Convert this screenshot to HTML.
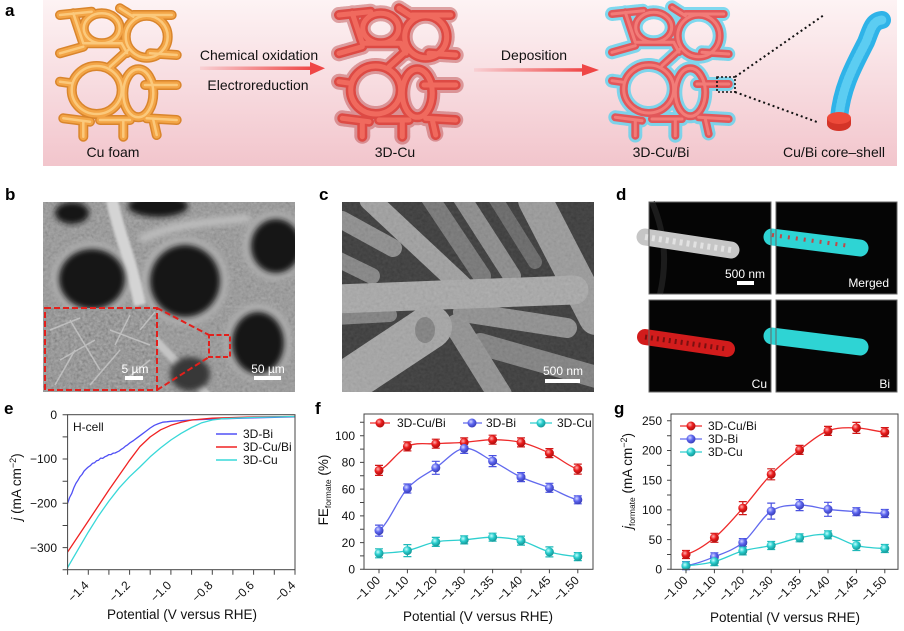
<!DOCTYPE html>
<html><head><meta charset="utf-8"><style>
html,body{margin:0;padding:0;background:#fff;}
svg{display:block;font-family:"Liberation Sans",Arial,sans-serif;}
</style></head><body>
<svg width="904" height="631" viewBox="0 0 904 631" xmlns="http://www.w3.org/2000/svg">
<defs>
<linearGradient id="pink" x1="0" y1="0" x2="0" y2="1"><stop offset="0" stop-color="#fdf3f4"/><stop offset="1" stop-color="#f2c5cc"/></linearGradient>
<linearGradient id="arr" x1="0" y1="0" x2="1" y2="0"><stop offset="0" stop-color="#f8d0d4"/><stop offset="1" stop-color="#ef4646"/></linearGradient>
<radialGradient id="mr" cx="0.38" cy="0.35" r="0.7"><stop offset="0" stop-color="#ffb0b0"/><stop offset="0.45" stop-color="#ea1c1c"/><stop offset="1" stop-color="#a80c0c"/></radialGradient>
<radialGradient id="mb" cx="0.38" cy="0.35" r="0.7"><stop offset="0" stop-color="#d6d9ff"/><stop offset="0.45" stop-color="#5d66f0"/><stop offset="1" stop-color="#3438b0"/></radialGradient>
<radialGradient id="mc" cx="0.38" cy="0.35" r="0.7"><stop offset="0" stop-color="#c4ffff"/><stop offset="0.45" stop-color="#27cccc"/><stop offset="1" stop-color="#148f8f"/></radialGradient>
<path id="lat" d="M68.7,29.7 a21,21 0 1,0 42,0 a21,21 0 1,0 -42,0 M14.7,83 a25,24 0 1,0 50,0 a25,24 0 1,0 -50,0 M66.3,86.3 a15,24 0 1,0 30,0 a15,24 0 1,0 -30,0 M26.7,21.3 a18,15 0 1,0 36,0 a18,15 0 1,0 -36,0 M3,8 L34.7,4.7 M16.3,6.3 L26.3,36.3 M26.3,36.3 L64.7,36.3 M3,46.3 L26.3,39.7 M63,1.3 L76.3,9.7 M76.3,8 L114.7,8 M93,46.3 L119.7,48 M88,78 L119.7,78 M3,74.7 L14.7,76.3 M6.3,111.3 L33,114.7 M43,113 L73,113 M89.7,111.3 L119.7,113 M26.3,114.7 L26.3,129.7 M66.3,113 L66.3,129.7 M96.3,113 L99.7,128 M53,59.7 L71.3,43 M64.7,36.3 L70,46"/>
<filter id="blur3" x="-30%" y="-30%" width="160%" height="160%"><feGaussianBlur stdDeviation="3"/></filter>
<filter id="blur1" x="-30%" y="-30%" width="160%" height="160%"><feGaussianBlur stdDeviation="1.2"/></filter>
<filter id="grain" x="0" y="0" width="100%" height="100%"><feTurbulence type="fractalNoise" baseFrequency="0.35" numOctaves="2" seed="4"/><feColorMatrix type="matrix" values="0.33 0.33 0.33 0 0 0.33 0.33 0.33 0 0 0.33 0.33 0.33 0 0 0 0 0 0 1"/></filter>
<clipPath id="cb"><rect x="43" y="202" width="252" height="190"/></clipPath>
<clipPath id="cbi"><rect x="45" y="308" width="112" height="82"/></clipPath>
<clipPath id="cc"><rect x="342" y="202" width="252" height="190"/></clipPath>
<clipPath id="ce"><rect x="67.6" y="414.7" width="227.4" height="155"/></clipPath>
</defs>

<!-- Panel a -->
<rect x="43" y="0" width="854" height="166" fill="url(#pink)"/>
<text x="5" y="16" font-size="17" font-weight="bold">a</text>
<g transform="translate(57,7)" fill="none" stroke-linecap="round">
<use href="#lat" stroke="#d9852c" stroke-width="10"/>
<use href="#lat" stroke="#f3a547" stroke-width="7"/>
<use href="#lat" stroke="#fbc97c" stroke-width="2.5"/>
</g>
<g transform="translate(336,7)" fill="none" stroke-linecap="round">
<use href="#lat" stroke="#b84040" stroke-width="16" stroke-dasharray="1 1.6" opacity="0.45"/>
<use href="#lat" stroke="#dd4a44" stroke-width="10"/>
<use href="#lat" stroke="#f06a5e" stroke-width="5"/>
</g>
<g transform="translate(609,6)" fill="none" stroke-linecap="round">
<use href="#lat" stroke="#5fd2ee" stroke-width="14" stroke-dasharray="1 1.3" opacity="0.8"/>
<use href="#lat" stroke="#e2575a" stroke-width="8"/>
<use href="#lat" stroke="#f27c78" stroke-width="3"/>
</g>
<rect x="200" y="66.5" width="112" height="3.5" fill="url(#arr)"/>
<polygon points="310,62 325,68.2 310,75" fill="#ef4646"/>
<rect x="474" y="68.2" width="110" height="3.5" fill="url(#arr)"/>
<polygon points="582,64 599,70 582,76" fill="#ef4646"/>
<g font-size="14" text-anchor="middle" fill="#111">
<text x="259" y="60">Chemical oxidation</text>
<text x="258" y="90">Electroreduction</text>
<text x="534" y="60">Deposition</text>
<text x="113" y="157">Cu foam</text>
<text x="395" y="157">3D-Cu</text>
<text x="661" y="157">3D-Cu/Bi</text>
<text x="834" y="157">Cu/Bi core–shell</text>
</g>
<rect x="717" y="77" width="18" height="15" fill="none" stroke="#111" stroke-width="1.6" stroke-dasharray="2 2"/>
<line x1="735" y1="77" x2="824" y2="15" stroke="#111" stroke-width="2" stroke-dasharray="2 3"/>
<line x1="735" y1="92" x2="817" y2="122" stroke="#111" stroke-width="2" stroke-dasharray="2 3"/>
<path d="M839,118 C842,85 856,62 866,42 C871,30 872,21 882,20" fill="none" stroke="#2fb3e8" stroke-width="18" stroke-linecap="round"/>
<path d="M839,118 C842,85 856,62 866,42 C871,30 872,21 882,20" fill="none" stroke="#5ccdf2" stroke-width="9" stroke-linecap="round" stroke-dasharray="2 2"/>
<rect x="827" y="118" width="24" height="6" fill="#d43428"/>
<ellipse cx="839" cy="124" rx="12" ry="7" fill="#d43428"/>
<ellipse cx="839" cy="118" rx="12" ry="6" fill="#ee4a3a"/>

<!-- Panel b -->
<text x="5" y="200" font-size="17" font-weight="bold">b</text>
<g clip-path="url(#cb)">
<rect x="43" y="202" width="252" height="190" fill="#8c8c8c"/>
<rect x="43" y="202" width="252" height="190" filter="url(#grain)" opacity="0.35"/>
<g fill="#b0b0b0" filter="url(#blur3)">
<ellipse cx="92" cy="279" rx="40" ry="37"/><ellipse cx="185" cy="281" rx="43" ry="44"/><ellipse cx="275" cy="246" rx="32" ry="34"/><ellipse cx="258" cy="342" rx="33" ry="38"/>
</g>
<path d="M112,200 C118,232 130,255 140,305" stroke="#d4d4d4" stroke-width="12" fill="none" filter="url(#blur1)"/>
<path d="M150,334 C172,358 192,378 210,398" stroke="#c4c4c4" stroke-width="8" fill="none" filter="url(#blur1)"/>
<path d="M140,240 C170,224 210,222 250,218" stroke="#bdbdbd" stroke-width="8" fill="none" filter="url(#blur3)"/>
<g fill="#141414" filter="url(#blur3)">
<ellipse cx="72" cy="213" rx="17" ry="11"/><ellipse cx="158" cy="206" rx="30" ry="11"/>
<ellipse cx="92" cy="279" rx="33" ry="30"/><ellipse cx="185" cy="281" rx="35" ry="36"/>
<ellipse cx="276" cy="246" rx="25" ry="27"/><ellipse cx="258" cy="343" rx="26" ry="31"/>
</g>
<ellipse cx="190" cy="374" rx="20" ry="17" fill="#383838" filter="url(#blur3)"/>
</g>
<g clip-path="url(#cbi)">
<rect x="45" y="308" width="112" height="82" fill="#707070"/>
<rect x="45" y="308" width="112" height="82" filter="url(#grain)" opacity="0.55"/>
<g stroke="#c8c8c8" stroke-width="1.5" fill="none" opacity="0.8">
<path d="M50,330 L80,318 M60,360 L95,340 M90,385 L120,350 M110,330 L150,345 M55,385 L75,350 M125,380 L150,360 M70,320 L100,370 M130,315 L115,345 M140,330 L155,312"/>
</g>
</g>
<rect x="45" y="308" width="112" height="82" fill="none" stroke="#e2201c" stroke-width="2" stroke-dasharray="6 3"/>
<rect x="209" y="335" width="21" height="22" fill="none" stroke="#e2201c" stroke-width="2" stroke-dasharray="5 2.5"/>
<line x1="157" y1="308" x2="209" y2="335" stroke="#e2201c" stroke-width="2" stroke-dasharray="6 3"/>
<line x1="157" y1="390" x2="209" y2="357" stroke="#e2201c" stroke-width="2" stroke-dasharray="6 3"/>
<g fill="#fff" font-size="12" text-anchor="middle">
<text x="135" y="373">5 µm</text>
<text x="268" y="373">50 µm</text>
</g>
<rect x="125" y="376" width="18" height="4" fill="#fff"/>
<rect x="254" y="376" width="27" height="4" fill="#fff"/>

<!-- Panel c -->
<text x="319" y="200" font-size="17" font-weight="bold">c</text>
<g clip-path="url(#cc)" fill="none">
<rect x="342" y="202" width="252" height="190" fill="#2a2a2a"/>
<g stroke-linecap="round">
<line x1="342" y1="220" x2="393" y2="248" stroke="#888" stroke-width="18"/>
<line x1="335" y1="258" x2="372" y2="276" stroke="#7e7e7e" stroke-width="16"/>
<line x1="430" y1="198" x2="482" y2="276" stroke="#6e6e6e" stroke-width="18"/>
<line x1="462" y1="198" x2="512" y2="276" stroke="#868686" stroke-width="18"/>
<line x1="495" y1="198" x2="535" y2="262" stroke="#5e5e5e" stroke-width="14"/>
<line x1="370" y1="200" x2="462" y2="286" stroke="#9c9c9c" stroke-width="21"/>
<line x1="535" y1="200" x2="596" y2="318" stroke="#969696" stroke-width="34"/>
<line x1="463" y1="312" x2="567" y2="328" stroke="#8a8a8a" stroke-width="20"/>
<line x1="335" y1="318" x2="390" y2="315" stroke="#7a7a7a" stroke-width="14"/>
<line x1="335" y1="299" x2="574" y2="290" stroke="#a6a6a6" stroke-width="29"/>
<line x1="480" y1="344" x2="600" y2="378" stroke="#7a7a7a" stroke-width="22"/>
<line x1="457" y1="326" x2="500" y2="395" stroke="#8c8c8c" stroke-width="24"/>
<line x1="338" y1="388" x2="430" y2="327" stroke="#a2a2a2" stroke-width="44"/>
</g>
<ellipse cx="425" cy="330" rx="10" ry="13" fill="#7a7a7a"/>
<rect x="342" y="202" width="252" height="190" filter="url(#grain)" opacity="0.18"/>
</g>
<text x="563" y="375" fill="#fff" font-size="12" text-anchor="middle">500 nm</text>
<rect x="545" y="379" width="35" height="4" fill="#fff"/>

<!-- Panel d -->
<text x="616" y="200" font-size="17" font-weight="bold">d</text>
<rect x="649" y="202" width="122" height="92" fill="#050505"/>
<rect x="776" y="202" width="121" height="92" fill="#050505"/>
<rect x="649" y="300" width="122" height="92" fill="#050505"/>
<rect x="776" y="300" width="121" height="92" fill="#050505"/>
<path d="M652,202 C664,230 668,260 660,294" stroke="#1c1c1c" stroke-width="6" fill="none"/>
<line x1="645" y1="237" x2="731" y2="250" stroke="#c6c6c6" stroke-width="17" stroke-linecap="round"/>
<line x1="645" y1="237" x2="731" y2="250" stroke="#e2e2e2" stroke-width="6" stroke-dasharray="3 4"/>
<line x1="772" y1="237" x2="860" y2="248" stroke="#2ed4d4" stroke-width="17" stroke-linecap="round"/>
<line x1="772" y1="235" x2="850" y2="246" stroke="#c04848" stroke-width="4" stroke-dasharray="2 6"/>
<line x1="645" y1="337" x2="727" y2="349" stroke="#d21c1c" stroke-width="16" stroke-linecap="round"/>
<line x1="645" y1="337" x2="727" y2="349" stroke="#7a1010" stroke-width="5" stroke-dasharray="2 4"/>
<line x1="772" y1="336" x2="860" y2="347" stroke="#2ed4d4" stroke-width="17" stroke-linecap="round"/>
<rect x="649" y="202" width="122" height="92" fill="none" stroke="#666" stroke-width="1"/>
<rect x="776" y="202" width="121" height="92" fill="none" stroke="#666" stroke-width="1"/>
<rect x="649" y="300" width="122" height="92" fill="none" stroke="#666" stroke-width="1"/>
<rect x="776" y="300" width="121" height="92" fill="none" stroke="#666" stroke-width="1"/>
<g fill="#fff" font-size="12">
<text x="745" y="278" text-anchor="middle">500 nm</text>
<text x="889" y="287" text-anchor="end">Merged</text>
<text x="767" y="388" text-anchor="end">Cu</text>
<text x="890" y="388" text-anchor="end">Bi</text>
</g>
<rect x="737" y="281" width="17" height="4" fill="#fff"/>

<!-- Panel e -->
<text x="4" y="414" font-size="17" font-weight="bold">e</text>
<g clip-path="url(#ce)" fill="none" stroke-width="1.3" stroke-linejoin="round">
<path stroke="#5050f5" d="M67.6,503.3 L69.6,497.5 L71.7,493.6 L73.8,487.9 L75.9,483.4 L78,480.2 L80,476.7 L82,474.5 L84.1,471 L86.2,468.9 L88.3,467 L90.4,465.6 L92.4,463.4 L94.5,462.8 L96.5,460.8 L98.6,460.2 L100.7,458.1 L102.7,458.4 L104.8,456.8 L106.9,455.9 L108.9,454.6 L111,454.6 L113.1,453.2 L115.1,453 L117.2,451.9 L119.3,450.9 L121.3,449.3 L123.4,448 L125.4,446.2 L127.5,444.9 L129.6,443.1 L133.7,440.4 L137.8,437.3 L142,434.2 L146.1,431.1 L150.2,428 L154.4,425.3 L158.5,423.6 L162.6,422.2 L166.8,421.8 L170.9,421.3 L191.6,420 L212.3,419.1 L253.6,417.8 L295,416.9"/>
<path stroke="#f02222" d="M67.6,552 L88.3,521 L108.9,490 L129.6,460.3 L139.9,446.6 L150.2,436.9 L160.6,429.8 L170.9,425.3 L181.2,422.2 L191.6,420 L212.3,418.2 L253.6,416.9 L295,416.5"/>
<path stroke="#38d8d8" d="M67.6,567.5 L77.9,549.8 L88.3,532.1 L98.6,515.7 L108.9,501.1 L119.3,487.8 L129.6,476.7 L139.9,467 L150.2,456.8 L160.6,447.9 L170.9,440 L181.2,433.3 L191.6,427.5 L201.9,422.7 L212.3,420 L222.6,418.7 L253.6,417.4 L295,416.5"/>
</g>
<rect x="67.6" y="414.7" width="227.4" height="155" fill="none" stroke="#444" stroke-width="1"/>
<path stroke="#444" stroke-width="1" d="M67.6,414.7 h-5 M67.6,436.9 h-5 M67.6,459 h-5 M67.6,481.2 h-5 M67.6,503.3 h-5 M67.6,525.5 h-5 M67.6,547.6 h-5 M67.6,569.7 h-5 M67.6,569.7 v5 M88.3,569.7 v5 M108.9,569.7 v5 M129.6,569.7 v5 M150.2,569.7 v5 M170.9,569.7 v5 M191.6,569.7 v5 M212.3,569.7 v5 M232.9,569.7 v5 M253.6,569.7 v5 M274.3,569.7 v5 M295,569.7 v5"/>
<g font-size="12" text-anchor="end" fill="#111">
<text x="57" y="419">0</text><text x="57" y="463">−100</text><text x="57" y="507.5">−200</text><text x="57" y="552">−300</text>
<text transform="translate(89.5,586) rotate(-45)">−1.4</text>
<text transform="translate(130.8,586) rotate(-45)">−1.2</text>
<text transform="translate(172.1,586) rotate(-45)">−1.0</text>
<text transform="translate(213.5,586) rotate(-45)">−0.8</text>
<text transform="translate(254.8,586) rotate(-45)">−0.6</text>
<text transform="translate(296.2,586) rotate(-45)">−0.4</text>
</g>
<text x="182" y="619" font-size="13.5" text-anchor="middle" fill="#111">Potential (V versus RHE)</text>
<text transform="translate(21,487) rotate(-90)" font-size="13.5" text-anchor="middle" fill="#111"><tspan font-style="italic">j</tspan> (mA cm<tspan dy="-5" font-size="9">−2</tspan><tspan dy="5">)</tspan></text>
<text x="73" y="431" font-size="12" fill="#111">H-cell</text>
<line x1="216" y1="434" x2="237" y2="434" stroke="#5050f5" stroke-width="1.5"/>
<line x1="216" y1="447" x2="237" y2="447" stroke="#f02222" stroke-width="1.5"/>
<line x1="216" y1="460" x2="237" y2="460" stroke="#38d8d8" stroke-width="1.5"/>
<g font-size="12" fill="#111"><text x="243" y="438">3D-Bi</text><text x="243" y="451">3D-Cu/Bi</text><text x="243" y="464">3D-Cu</text></g>

<!-- Panel f -->
<text x="315" y="414" font-size="17" font-weight="bold">f</text>
<g fill="none" stroke-width="1.3">
<path stroke="#ee2a2a" d="M379,470.4 C388.5,466.4 397.9,450.9 407.4,446.4 C416.9,441.9 426.3,444.4 435.8,443.7 C445.3,443 454.7,443.1 464.2,442.4 C473.7,441.7 483.1,439.7 492.6,439.7 C502.1,439.7 511.5,440.2 521,442.4 C530.5,444.6 539.9,448.7 549.4,453.1 C558.9,457.5 568.3,466.4 577.8,469.1"/>
<path stroke="#6169ee" d="M379,530.6 C388.5,523.6 397.9,499 407.4,488.5 C416.9,478 426.3,474.5 435.8,467.8 C445.3,461.1 454.7,449.5 464.2,448.4 C473.7,447.3 483.1,456.3 492.6,461.1 C502.1,465.9 511.5,472.7 521,477.1 C530.5,481.6 539.9,484 549.4,487.8 C558.9,491.6 568.3,497.8 577.8,499.8"/>
<path stroke="#2ecfcf" d="M379,553.3 C388.5,552.9 397.9,552.5 407.4,550.6 C416.9,548.7 426.3,543.7 435.8,541.9 C445.3,540.1 454.7,540.7 464.2,539.9 C473.7,539.1 483.1,537.1 492.6,537.2 C502.1,537.3 511.5,538.2 521,540.6 C530.5,543.1 539.9,549.2 549.4,551.9 C558.9,554.6 568.3,555.8 577.8,556.6"/>
</g>
<g fill="none" stroke-width="1.2">
<path stroke="#d01818" d="M375,465.4h8M379,465.4v10M375,475.4h8 M403.4,441.9h8M403.4,450.9h8M407.4,441.9v9 M431.8,439.2h8M431.8,448.2h8 M460.2,437.9h8M460.2,446.9h8 M488.6,435.2h8M488.6,444.2h8 M517,437.9h8M517,446.9h8 M545.4,448.6h8M545.4,457.6h8 M573.8,464.1h8M573.8,474.1h8M577.8,464.1v10"/>
<path stroke="#4a52e0" d="M375,525.1h8M375,536.1h8M379,525.1v11 M403.4,484h8M403.4,493h8 M431.8,461.3h8M431.8,474.3h8M435.8,461.3v13 M460.2,443.4h8M460.2,453.4h8M464.2,443.4v10 M488.6,455.6h8M488.6,466.6h8M492.6,455.6v11 M517,472.6h8M517,481.6h8 M545.4,483.3h8M545.4,492.3h8 M573.8,495.8h8M573.8,503.8h8"/>
<path stroke="#1fb8b8" d="M375,548.8h8M375,557.8h8 M403.4,544.6h8M403.4,556.6h8M407.4,544.6v12 M431.8,537.4h8M431.8,546.4h8 M460.2,535.9h8M460.2,543.9h8 M488.6,533.2h8M488.6,541.2h8 M517,536.1h8M517,545.1h8 M545.4,546.9h8M545.4,556.9h8M549.4,546.9v10 M573.8,552.6h8M573.8,560.6h8"/>
</g>
<g fill="url(#mr)"><circle cx="379" cy="470.4" r="4.5"/><circle cx="407.4" cy="446.4" r="4.5"/><circle cx="435.8" cy="443.7" r="4.5"/><circle cx="464.2" cy="442.4" r="4.5"/><circle cx="492.6" cy="439.7" r="4.5"/><circle cx="521" cy="442.4" r="4.5"/><circle cx="549.4" cy="453.1" r="4.5"/><circle cx="577.8" cy="469.1" r="4.5"/></g>
<g fill="url(#mb)"><circle cx="379" cy="530.6" r="4.5"/><circle cx="407.4" cy="488.5" r="4.5"/><circle cx="435.8" cy="467.8" r="4.5"/><circle cx="464.2" cy="448.4" r="4.5"/><circle cx="492.6" cy="461.1" r="4.5"/><circle cx="521" cy="477.1" r="4.5"/><circle cx="549.4" cy="487.8" r="4.5"/><circle cx="577.8" cy="499.8" r="4.5"/></g>
<g fill="url(#mc)"><circle cx="379" cy="553.3" r="4.5"/><circle cx="407.4" cy="550.6" r="4.5"/><circle cx="435.8" cy="541.9" r="4.5"/><circle cx="464.2" cy="539.9" r="4.5"/><circle cx="492.6" cy="537.2" r="4.5"/><circle cx="521" cy="540.6" r="4.5"/><circle cx="549.4" cy="551.9" r="4.5"/><circle cx="577.8" cy="556.6" r="4.5"/></g>
<rect x="364" y="414" width="229" height="155.3" fill="none" stroke="#444" stroke-width="1"/>
<path stroke="#444" stroke-width="1" d="M364,569.3h-4 M364,555.9h-4 M364,542.6h-4 M364,529.2h-4 M364,515.9h-4 M364,502.5h-4 M364,489.1h-4 M364,475.8h-4 M364,462.4h-4 M364,449.1h-4 M364,435.7h-4 M364,422.3h-4 M379,569.3v4 M407.4,569.3v4 M435.8,569.3v4 M464.2,569.3v4 M492.6,569.3v4 M521,569.3v4 M549.4,569.3v4 M577.8,569.3v4"/>
<g font-size="12" text-anchor="end" fill="#111">
<text x="355" y="573.5">0</text><text x="355" y="546.8">20</text><text x="355" y="520.1">40</text><text x="355" y="493.3">60</text><text x="355" y="466.6">80</text><text x="355" y="439.9">100</text>
<text transform="translate(381,581) rotate(-45)">−1.00</text>
<text transform="translate(409.4,581) rotate(-45)">−1.10</text>
<text transform="translate(437.8,581) rotate(-45)">−1.20</text>
<text transform="translate(466.2,581) rotate(-45)">−1.30</text>
<text transform="translate(494.6,581) rotate(-45)">−1.35</text>
<text transform="translate(523,581) rotate(-45)">−1.40</text>
<text transform="translate(551.4,581) rotate(-45)">−1.45</text>
<text transform="translate(579.8,581) rotate(-45)">−1.50</text>
</g>
<text x="478" y="621" font-size="13.5" text-anchor="middle" fill="#111">Potential (V versus RHE)</text>
<text transform="translate(328,490) rotate(-90)" font-size="13.5" text-anchor="middle" fill="#111">FE<tspan dy="3" font-size="8.5">formate</tspan><tspan dy="-3"> (%)</tspan></text>
<g stroke-width="1.3"><line x1="370" y1="423" x2="390" y2="423" stroke="#ee2a2a"/><line x1="463" y1="423" x2="482" y2="423" stroke="#6169ee"/><line x1="530" y1="423" x2="552" y2="423" stroke="#2ecfcf"/></g>
<circle cx="380" cy="423" r="4.5" fill="url(#mr)"/><circle cx="472" cy="423" r="4.5" fill="url(#mb)"/><circle cx="541" cy="423" r="4.5" fill="url(#mc)"/>
<g font-size="12" fill="#111"><text x="397" y="427">3D-Cu/Bi</text><text x="486" y="427">3D-Bi</text><text x="557" y="427">3D-Cu</text></g>

<!-- Panel g -->
<text x="614" y="414" font-size="17" font-weight="bold">g</text>
<g fill="none" stroke-width="1.3">
<path stroke="#ee2a2a" d="M686,554.5 C695.5,551.7 704.9,545.5 714.4,537.8 C723.9,530.1 733.3,518.7 742.8,508.1 C752.3,497.5 761.7,484 771.2,474.3 C780.7,464.6 790.1,457.1 799.6,449.9 C809.1,442.7 818.5,434.6 828,430.9 C837.5,427.2 846.9,427.7 856.4,427.9 C865.9,428.1 875.3,431.4 884.8,432.1"/>
<path stroke="#6169ee" d="M686,565.7 C695.5,564.2 704.9,560.7 714.4,556.8 C723.9,552.9 733.3,550.2 742.8,542.6 C752.3,535 761.7,517.4 771.2,511.1 C780.7,504.9 790.1,505.4 799.6,505.1 C809.1,504.8 818.5,508.2 828,509.3 C837.5,510.4 846.9,511 856.4,511.7 C865.9,512.4 875.3,513.2 884.8,513.5"/>
<path stroke="#2ecfcf" d="M686,565.7 C695.5,565 704.9,564.1 714.4,561.6 C723.9,559.1 733.3,553.6 742.8,550.9 C752.3,548.2 761.7,547.7 771.2,545.5 C780.7,543.3 790.1,539.6 799.6,537.8 C809.1,536 818.5,533.5 828,534.8 C837.5,536.1 846.9,543.2 856.4,545.5 C865.9,547.8 875.3,548 884.8,548.5"/>
</g>
<g fill="none" stroke-width="1.2">
<path stroke="#d01818" d="M682,550.5h8M682,558.5h8 M710.4,533.3h8M710.4,542.3h8 M738.8,501.6h8M738.8,514.6h8M742.8,501.6v13 M767.2,468.8h8M767.2,479.8h8M771.2,468.8v11 M795.6,445.4h8M795.6,454.4h8 M824,426.4h8M824,435.4h8 M852.4,422.4h8M852.4,433.4h8M856.4,422.4v11 M880.8,427.6h8M880.8,436.6h8"/>
<path stroke="#4a52e0" d="M682,561.7h8M682,569.7h8 M710.4,552.8h8M710.4,560.8h8 M738.8,538.6h8M738.8,546.6h8 M767.2,503.1h8M767.2,519.1h8M771.2,503.1v16 M795.6,499.6h8M795.6,510.6h8M799.6,499.6v11 M824,502.3h8M824,516.3h8M828,502.3v14 M852.4,507.7h8M852.4,515.7h8 M880.8,509.5h8M880.8,517.5h8"/>
<path stroke="#1fb8b8" d="M682,561.7h8 M710.4,557.6h8M710.4,565.6h8 M738.8,546.9h8M738.8,554.9h8 M767.2,541.5h8M767.2,549.5h8 M795.6,533.8h8M795.6,541.8h8 M824,530.8h8M824,538.8h8 M852.4,540.5h8M852.4,550.5h8M856.4,540.5v10 M880.8,544.5h8M880.8,552.5h8"/>
</g>
<g fill="url(#mr)"><circle cx="686" cy="554.5" r="4.5"/><circle cx="714.4" cy="537.8" r="4.5"/><circle cx="742.8" cy="508.1" r="4.5"/><circle cx="771.2" cy="474.3" r="4.5"/><circle cx="799.6" cy="449.9" r="4.5"/><circle cx="828" cy="430.9" r="4.5"/><circle cx="856.4" cy="427.9" r="4.5"/><circle cx="884.8" cy="432.1" r="4.5"/></g>
<g fill="url(#mb)"><circle cx="686" cy="565.7" r="4.5"/><circle cx="714.4" cy="556.8" r="4.5"/><circle cx="742.8" cy="542.6" r="4.5"/><circle cx="771.2" cy="511.1" r="4.5"/><circle cx="799.6" cy="505.1" r="4.5"/><circle cx="828" cy="509.3" r="4.5"/><circle cx="856.4" cy="511.7" r="4.5"/><circle cx="884.8" cy="513.5" r="4.5"/></g>
<g fill="url(#mc)"><circle cx="686" cy="566" r="4.5"/><circle cx="714.4" cy="561.6" r="4.5"/><circle cx="742.8" cy="550.9" r="4.5"/><circle cx="771.2" cy="545.5" r="4.5"/><circle cx="799.6" cy="537.8" r="4.5"/><circle cx="828" cy="534.8" r="4.5"/><circle cx="856.4" cy="545.5" r="4.5"/><circle cx="884.8" cy="548.5" r="4.5"/></g>
<rect x="671" y="414" width="227" height="155.3" fill="none" stroke="#444" stroke-width="1"/>
<path stroke="#444" stroke-width="1" d="M671,569.3h-4 M671,554.5h-4 M671,539.6h-4 M671,524.8h-4 M671,509.9h-4 M671,495h-4 M671,480.2h-4 M671,465.4h-4 M671,450.5h-4 M671,435.7h-4 M671,420.8h-4 M686,569.3v4 M714.4,569.3v4 M742.8,569.3v4 M771.2,569.3v4 M799.6,569.3v4 M828,569.3v4 M856.4,569.3v4 M884.8,569.3v4"/>
<g font-size="12" text-anchor="end" fill="#111">
<text x="662" y="573.5">0</text><text x="662" y="543.8">50</text><text x="662" y="514.1">100</text><text x="662" y="484.4">150</text><text x="662" y="454.7">200</text><text x="662" y="425">250</text>
<text transform="translate(688.5,581) rotate(-45)">−1.00</text>
<text transform="translate(716.9,581) rotate(-45)">−1.10</text>
<text transform="translate(745.3,581) rotate(-45)">−1.20</text>
<text transform="translate(773.7,581) rotate(-45)">−1.30</text>
<text transform="translate(802.1,581) rotate(-45)">−1.35</text>
<text transform="translate(830.5,581) rotate(-45)">−1.40</text>
<text transform="translate(858.9,581) rotate(-45)">−1.45</text>
<text transform="translate(887.3,581) rotate(-45)">−1.50</text>
</g>
<text x="785" y="622" font-size="13.5" text-anchor="middle" fill="#111">Potential (V versus RHE)</text>
<text transform="translate(632,481) rotate(-90)" font-size="13.5" text-anchor="middle" fill="#111"><tspan font-style="italic">j</tspan><tspan dy="3" font-size="8.5">formate</tspan><tspan dy="-3"> (mA cm</tspan><tspan dy="-5" font-size="9">−2</tspan><tspan dy="5">)</tspan></text>
<g stroke-width="1.3"><line x1="680" y1="426" x2="702" y2="426" stroke="#ee2a2a"/><line x1="680" y1="439" x2="702" y2="439" stroke="#6169ee"/><line x1="680" y1="452" x2="702" y2="452" stroke="#2ecfcf"/></g>
<circle cx="691" cy="426" r="4.5" fill="url(#mr)"/><circle cx="691" cy="439" r="4.5" fill="url(#mb)"/><circle cx="691" cy="452" r="4.5" fill="url(#mc)"/>
<g font-size="12" fill="#111"><text x="708" y="430">3D-Cu/Bi</text><text x="708" y="443">3D-Bi</text><text x="708" y="456">3D-Cu</text></g>
</svg>
</body></html>
